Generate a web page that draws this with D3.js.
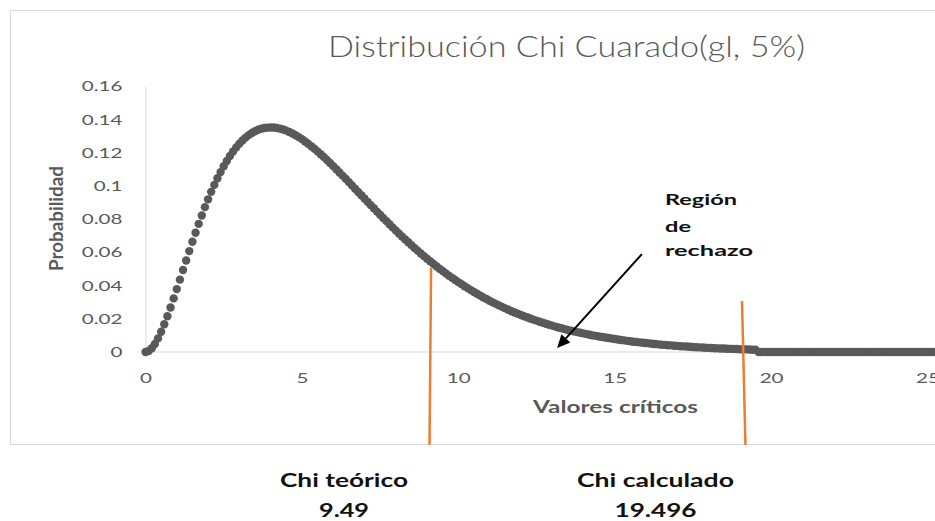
<!DOCTYPE html>
<html>
<head>
  <meta charset="utf-8" />
  <title>Distribución Chi Cuarado(gl, 5%)</title>
  <script type="text/javascript" src="https://cdn.jsdelivr.net/npm/d3@7"></script>
  <style>
    body{
      margin: 0;
      background: white;
    }
    svg{
      display: block;
      font-family: Lato, "Liberation Sans", sans-serif;
    }
  </style>
</head>
<body>
  <script type="text/javascript">
    // - - - - - DATA - - - - - //
    // valores criticos (x) and probabilidad (y), one dot each
    var chiX = [
      0,0.1,0.2,0.3,0.4,0.5,0.6,0.7,0.8,0.9,
      1,1.1,1.2,1.3,1.4,1.5,1.6,1.7,1.8,1.9,
      2,2.1,2.2,2.3,2.4,2.5,2.6,2.7,2.8,2.9,
      3,3.1,3.2,3.3,3.4,3.5,3.6,3.7,3.8,3.9,
      4,4.1,4.2,4.3,4.4,4.5,4.6,4.7,4.8,4.9,
      5,5.1,5.2,5.3,5.4,5.5,5.6,5.7,5.8,5.9,
      6,6.1,6.2,6.3,6.4,6.5,6.6,6.7,6.8,6.9,
      7,7.1,7.2,7.3,7.4,7.5,7.6,7.7,7.8,7.9,
      8,8.1,8.2,8.3,8.4,8.5,8.6,8.7,8.8,8.9,
      9,9.1,9.2,9.3,9.4,9.5,9.6,9.7,9.8,9.9,
      10,10.1,10.2,10.3,10.4,10.5,10.6,10.7,10.8,10.9,
      11,11.1,11.2,11.3,11.4,11.5,11.6,11.7,11.8,11.9,
      12,12.1,12.2,12.3,12.4,12.5,12.6,12.7,12.8,12.9,
      13,13.1,13.2,13.3,13.4,13.5,13.6,13.7,13.8,13.9,
      14,14.1,14.2,14.3,14.4,14.5,14.6,14.7,14.8,14.9,
      15,15.1,15.2,15.3,15.4,15.5,15.6,15.7,15.8,15.9,
      16,16.1,16.2,16.3,16.4,16.5,16.6,16.7,16.8,16.9,
      17,17.1,17.2,17.3,17.4,17.5,17.6,17.7,17.8,17.9,
      18,18.1,18.2,18.3,18.4,18.5,18.6,18.7,18.8,18.9,
      19,19.1,19.2,19.3,19.4,19.5,19.6,19.7,19.8,19.9,
      20,20.1,20.2,20.3,20.4,20.5,20.6,20.7,20.8,20.9,
      21,21.1,21.2,21.3,21.4,21.5,21.6,21.7,21.8,21.9,
      22,22.1,22.2,22.3,22.4,22.5,22.6,22.7,22.8,22.9,
      23,23.1,23.2,23.3,23.4,23.5,23.6,23.7,23.8,23.9,
      24,24.1,24.2,24.3,24.4,24.5,24.6,24.7,24.8,24.9,
      25,25.1,25.2,25.3
    ];
    var chiY = [
      0,0.0006,0.0023,0.0048,0.0082,0.0122,0.0167,0.0216,0.0268,0.0323,
      0.0379,0.0436,0.0494,0.0551,0.0608,0.0664,0.0719,0.0772,0.0823,0.0873,
      0.0920,0.0965,0.1007,0.1047,0.1084,0.1119,0.1151,0.1181,0.1208,0.1233,
      0.1255,0.1275,0.1292,0.1307,0.1320,0.1330,0.1339,0.1345,0.1350,0.1352,
      0.1353,0.1353,0.1350,0.1346,0.1341,0.1334,0.1326,0.1317,0.1306,0.1295,
      0.1283,0.1269,0.1255,0.1240,0.1225,0.1209,0.1192,0.1175,0.1157,0.1139,
      0.1120,0.1101,0.1082,0.1063,0.1044,0.1024,0.1004,0.0984,0.0964,0.0945,
      0.0925,0.0905,0.0885,0.0866,0.0846,0.0827,0.0808,0.0789,0.0770,0.0751,
      0.0733,0.0714,0.0696,0.0679,0.0661,0.0644,0.0627,0.0611,0.0594,0.0578,
      0.0562,0.0547,0.0532,0.0517,0.0502,0.0488,0.0474,0.0460,0.0447,0.0434,
      0.0421,0.0409,0.0396,0.0385,0.0373,0.0362,0.0351,0.0340,0.0329,0.0319,
      0.0309,0.0299,0.0290,0.0281,0.0272,0.0263,0.0255,0.0246,0.0238,0.0231,
      0.0223,0.0216,0.0209,0.0202,0.0195,0.0189,0.0182,0.0176,0.0170,0.0164,
      0.0159,0.0153,0.0148,0.0143,0.0138,0.0133,0.0129,0.0124,0.0120,0.0116,
      0.0112,0.0108,0.0104,0.0100,0.0097,0.0093,0.0090,0.0087,0.0084,0.0081,
      0.0078,0.0075,0.0072,0.0070,0.0067,0.0065,0.0062,0.0060,0.0058,0.0056,
      0.0054,0.0052,0.0050,0.0048,0.0046,0.0044,0.0043,0.0041,0.0040,0.0038,
      0.0037,0.0035,0.0034,0.0033,0.0032,0.0030,0.0029,0.0028,0.0027,0.0026,
      0.0025,0.0024,0.0023,0.0022,0.0021,0.0021,0.0020,0.0019,0.0018,0.0018,
      0.0017,0.0016,0.0016,0.0015,0.0014,0.0014,0,0,0,0,
      0,0,0,0,0,0,0,0,0,0,
      0,0,0,0,0,0,0,0,0,0,
      0,0,0,0,0,0,0,0,0,0,
      0,0,0,0,0,0,0,0,0,0,
      0,0,0,0,0,0,0,0,0,0,
      0,0,0,0
    ];

    //Axis ticks
    var xTicks = [0, 5, 10, 15, 20, 25];
    var yTicks = [0, 0.02, 0.04, 0.06, 0.08, 0.1, 0.12, 0.14, 0.16];
    var yTickLabels = ["0", "0.02", "0.04", "0.06", "0.08", "0.1", "0.12", "0.14", "0.16"];

    //Critical value markers (orange) - drawn x positions, top and bottom (data units)
    var critTopX = [9.13, 19.07];
    var critBottomX = [9.08, 19.18];
    var critTop = [0.0506, 0.0307];
    var critBottom = [-0.0560, -0.0560];
    var critNames = ["Chi teórico", "Chi calculado"];
    var critValues = ["9.49", "19.496"];

    //Rejection region annotation
    var regionWords = ["Región", "de", "rechazo"];
    var arrowFrom = [15.87, 0.0590];
    var arrowTo = [13.16, 0.0024];

    // - - - - - CONSTANTS - - - - - //
    var w = 935;
    var h = 521;
    var SX = 1.47;      //picture is stretched sideways, text too
    var grey = "#595959";
    var axisGrey = "#d9d9d9";
    var orange = "#ED7D31";

    // - - - - - CANVAS - - - - - //
    var svg = d3.select("body")
      .append("svg")
      .attr("width", w)
      .attr("height", h);

    svg.append("rect")
      .attr("width", w).attr("height", h)
      .attr("fill", "white");

    //chart border (right edge falls outside the picture)
    svg.append("rect")
      .attr("x", 10.5).attr("y", 10.5)
      .attr("width", 1000).attr("height", 434)
      .attr("fill", "none")
      .attr("stroke", axisGrey)
      .attr("stroke-width", 1);

    // - - - - - SCALES - - - - - //
    var x = d3.scaleLinear()
      .domain([0, 25])
      .range([145.5, 927.5]);
    var y = d3.scaleLinear()
      .domain([0, 0.16])
      .range([352, 86.5]);

    //stretch text sideways to match the picture
    var stretch = function(sel, f){
      sel.each(function(){
        var len = this.getComputedTextLength();
        d3.select(this)
          .attr("textLength", len * f)
          .attr("lengthAdjust", "spacingAndGlyphs");
      });
    };

    // - - - - - AXES - - - - - //
    var yAxis = svg.append("g")
      .attr("transform", "translate(" + x(0) + ",0)")
      .call(d3.axisLeft(y)
        .tickValues(yTicks)
        .tickSize(0)
        .tickPadding(23)
        .tickFormat(function(d,i){ return yTickLabels[i]; }));
    yAxis.select(".domain").attr("stroke", axisGrey);
    yAxis.selectAll("text")
      .attr("font-family", "Lato, 'Liberation Sans', sans-serif")
      .attr("font-size", "14px")
      .attr("fill", grey)
      .call(stretch, SX);

    var xAxis = svg.append("g")
      .attr("transform", "translate(0," + y(0) + ")")
      .call(d3.axisBottom(x)
        .tickValues(xTicks)
        .tickSize(0)
        .tickPadding(21)
        .tickFormat(d3.format("d")));
    xAxis.select(".domain").remove();
    xAxis.selectAll("text")
      .attr("font-family", "Lato, 'Liberation Sans', sans-serif")
      .attr("font-size", "14px")
      .attr("fill", grey)
      .call(stretch, SX);

    svg.append("line")
      .attr("x1", x(0)).attr("x2", w)
      .attr("y1", y(0)).attr("y2", y(0))
      .attr("stroke", axisGrey)
      .attr("stroke-width", 1);

    // - - - - - DATA POINTS - - - - - //
    svg.append("g")
      .selectAll("circle")
      .data(chiX)
      .enter()
      .append("circle")
      .attr("cx", function(d){ return x(d); })
      .attr("cy", function(d,i){ return y(chiY[i]); })
      .attr("r", 4.2)
      .attr("fill", grey);

    // - - - - - CRITICAL VALUE LINES - - - - - //
    svg.append("g")
      .selectAll("line")
      .data(critTopX)
      .enter()
      .append("line")
      .attr("x1", function(d){ return x(d); })
      .attr("y1", function(d,i){ return y(critTop[i]); })
      .attr("x2", function(d,i){ return x(critBottomX[i]); })
      .attr("y2", function(d,i){ return y(critBottom[i]); })
      .attr("stroke", orange)
      .attr("stroke-width", 2.5);

    // - - - - - ARROW - - - - - //
    var ax0 = x(arrowFrom[0]), ay0 = y(arrowFrom[1]);
    var ax1 = x(arrowTo[0]), ay1 = y(arrowTo[1]);
    var ang = Math.atan2(ay1 - ay0, ax1 - ax0);
    var headLen = 13, headW = 6;
    var bx = ax1 - headLen * Math.cos(ang), by = ay1 - headLen * Math.sin(ang);
    svg.append("line")
      .attr("x1", ax0).attr("y1", ay0)
      .attr("x2", bx).attr("y2", by)
      .attr("stroke", "#000")
      .attr("stroke-width", 2);
    svg.append("polygon")
      .attr("points", [
        [ax1, ay1],
        [bx + headW * Math.sin(ang), by - headW * Math.cos(ang)],
        [bx - headW * Math.sin(ang), by + headW * Math.cos(ang)]
      ].map(function(p){ return p.join(","); }).join(" "))
      .attr("fill", "#000");

    // - - - - - TEXTS - - - - - //
    //title
    svg.append("text")
      .text("Distribución Chi Cuarado(gl, 5%)")
      .attr("x", 566.5).attr("y", 57)
      .attr("text-anchor", "middle")
      .attr("font-family", "Lato, 'Liberation Sans', sans-serif")
      .attr("font-weight", 300)
      .attr("font-size", "29px")
      .attr("fill", grey)
      .attr("textLength", 477)
      .attr("lengthAdjust", "spacingAndGlyphs");

    //axis titles
    svg.append("text")
      .text("Valores críticos")
      .attr("x", 615.5).attr("y", 413)
      .attr("text-anchor", "middle")
      .attr("font-weight", "bold")
      .attr("font-size", "16.5px")
      .attr("fill", grey)
      .attr("textLength", 165)
      .attr("lengthAdjust", "spacingAndGlyphs");

    svg.append("text")
      .text("Probabilidad")
      .attr("transform", "translate(63,218.5) rotate(-90)")
      .attr("text-anchor", "middle")
      .attr("font-weight", "bold")
      .attr("font-size", "19px")
      .attr("fill", grey)
      .attr("textLength", 105)
      .attr("lengthAdjust", "spacingAndGlyphs");

    //rejection region label
    var regionBase = [205, 232, 256];
    var regionLen = [72, 26, 88];
    svg.append("g")
      .selectAll("text")
      .data(regionWords)
      .enter()
      .append("text")
      .text(function(d){ return d; })
      .attr("x", 665)
      .attr("y", function(d,i){ return regionBase[i]; })
      .attr("font-weight", "bold")
      .attr("font-size", "16px")
      .attr("fill", "#111")
      .attr("textLength", function(d,i){ return regionLen[i]; })
      .attr("lengthAdjust", "spacingAndGlyphs");

    //critical value captions under the chart
    var capX = [344, 655.5];
    var nameLen = [128, 157];
    var valLen = [50, 82];
    var caps = svg.append("g")
      .selectAll("g")
      .data(critNames)
      .enter()
      .append("g");
    caps.append("text")
      .text(function(d){ return d; })
      .attr("x", function(d,i){ return capX[i]; })
      .attr("y", 487)
      .attr("text-anchor", "middle")
      .attr("font-weight", "bold")
      .attr("font-size", "18px")
      .attr("fill", "#111")
      .attr("textLength", function(d,i){ return nameLen[i]; })
      .attr("lengthAdjust", "spacingAndGlyphs");
    caps.append("text")
      .text(function(d,i){ return critValues[i]; })
      .attr("x", function(d,i){ return capX[i]; })
      .attr("y", 517)
      .attr("text-anchor", "middle")
      .attr("font-weight", "bold")
      .attr("font-size", "18px")
      .attr("fill", "#111")
      .attr("textLength", function(d,i){ return valLen[i]; })
      .attr("lengthAdjust", "spacingAndGlyphs");
  </script>
</body>
</html>
